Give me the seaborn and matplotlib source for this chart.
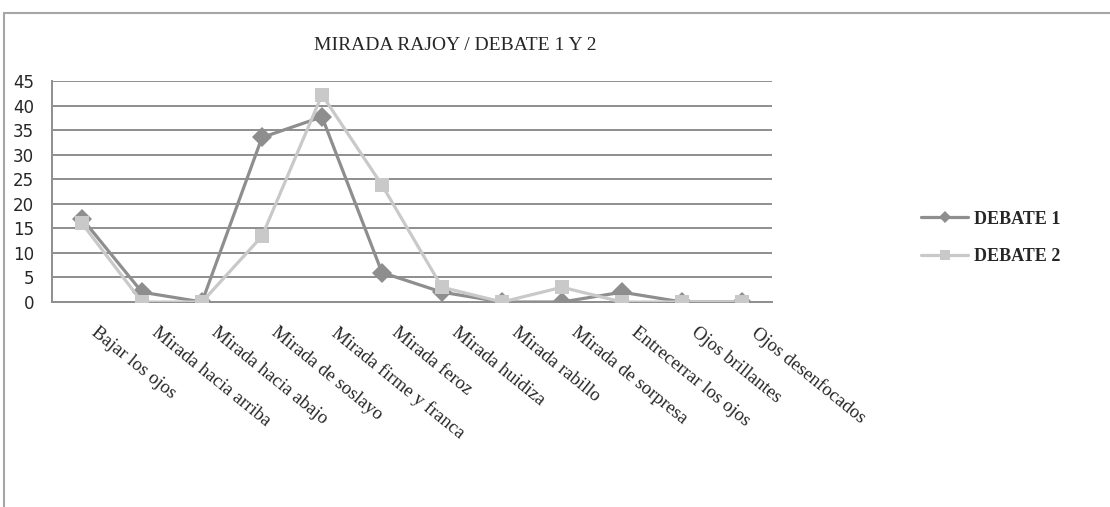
import numpy as np
import pandas as pd
import matplotlib
matplotlib.use("Agg")
import matplotlib.pyplot as plt
from matplotlib.lines import Line2D
from matplotlib.transforms import ScaledTranslation
import seaborn as sns

# Data
categorias = ["Bajar los ojos", "Mirada hacia arriba", "Mirada hacia abajo",
              "Mirada de soslayo", "Mirada firme y franca", "Mirada feroz",
              "Mirada huidiza", "Mirada rabillo", "Mirada de sorpresa",
              "Entrecerrar los ojos", "Ojos brillantes", "Ojos desenfocados"]
debate_1 = [17, 2, 0, 33.5, 37.7, 6, 2, 0, 0, 2, 0, 0]
debate_2 = [16, 0, 0, 13.4, 42.2, 23.8, 3, 0, 3, 0, 0, 0]
series = ["DEBATE 1", "DEBATE 2"]
colores = ["#8e8e8e", "#c9c9c9"]
y_ticks = list(range(0, 50, 5))

df = pd.DataFrame({
    "cat": categorias * 2,
    "valor": debate_1 + debate_2,
    "serie": [series[0]] * len(categorias) + [series[1]] * len(categorias),
})
df["pos"] = df["cat"].map({c: i for i, c in enumerate(categorias)})

sns.set_style("white")
plt.rcParams["font.family"] = ["DejaVu Sans"]

fig = plt.figure(figsize=(11.1, 5.07), dpi=100)
ax = fig.add_axes([52 / 1110, 1 - 302 / 507, 720 / 1110, 221 / 507])

sns.lineplot(data=df, x="pos", y="valor", hue="serie", style="serie",
             palette=colores, markers={"DEBATE 1": "D", "DEBATE 2": "s"},
             dashes=False, linewidth=2.3, markersize=10, markeredgewidth=0,
             sort=False, legend=False, ax=ax, zorder=3)

ax.set_xlim(-0.5, len(categorias) - 0.5)
ax.set_ylim(0, 45)
ax.set_yticks(y_ticks)
ax.yaxis.grid(True, color="#8e8e8e", linewidth=1.4)
ax.set_axisbelow(True)
ax.set_xlabel("")
ax.set_ylabel("")

# category labels, slanted and nudged right of each category centre
ax.set_xticks(range(len(categorias)))
ax.set_xticklabels([])
nudge = ax.get_xaxis_transform() + ScaledTranslation(17 / 100, -22 / 100, fig.dpi_scale_trans)
for i, cat in enumerate(categorias):
    ax.text(i, 0, cat, transform=nudge, rotation=-39, rotation_mode="anchor",
            ha="left", va="top", family=["Liberation Serif"], fontsize=13.5)
ax.set_xticks(np.arange(-0.5, len(categorias)), minor=True)
ax.tick_params(axis="x", which="major", length=0)
ax.tick_params(axis="x", which="minor", length=5, color="#8e8e8e", width=1.2, direction="out")
ax.tick_params(axis="y", length=6, color="#8e8e8e", width=1.2, direction="out",
               labelsize=12, pad=7)

for s in ["top", "right"]:
    ax.spines[s].set_visible(False)
for s in ["left", "bottom"]:
    ax.spines[s].set_color("#8e8e8e")
    ax.spines[s].set_linewidth(1.4)

fig.text(455 / 1110, 1 - 45 / 507, "MIRADA RAJOY / DEBATE 1 Y 2",
         ha="center", va="center", family=["Liberation Serif"], fontsize=14)

handles = [Line2D([], [], color=colores[0], marker="D", markersize=6, lw=2.3, markeredgewidth=0),
           Line2D([], [], color=colores[1], marker="s", markersize=7, lw=2.3, markeredgewidth=0)]
fig.legend(handles, series, loc="center left", bbox_to_anchor=(905 / 1110, 1 - 238 / 507),
           frameon=False, handlelength=2.6, handletextpad=0.3, labelspacing=1.15,
           prop={"family": "Liberation Serif", "weight": "bold", "size": 13})

# outer chart frame (top and left edges visible)
fig.add_artist(Line2D([4 / 1110, 4 / 1110], [0, 1 - 13 / 507], transform=fig.transFigure,
                      color="#a6a6a6", linewidth=1.5))
fig.add_artist(Line2D([4 / 1110, 1], [1 - 13 / 507, 1 - 13 / 507], transform=fig.transFigure,
                      color="#a6a6a6", linewidth=1.5))

fig.savefig("out.png", dpi=100)
